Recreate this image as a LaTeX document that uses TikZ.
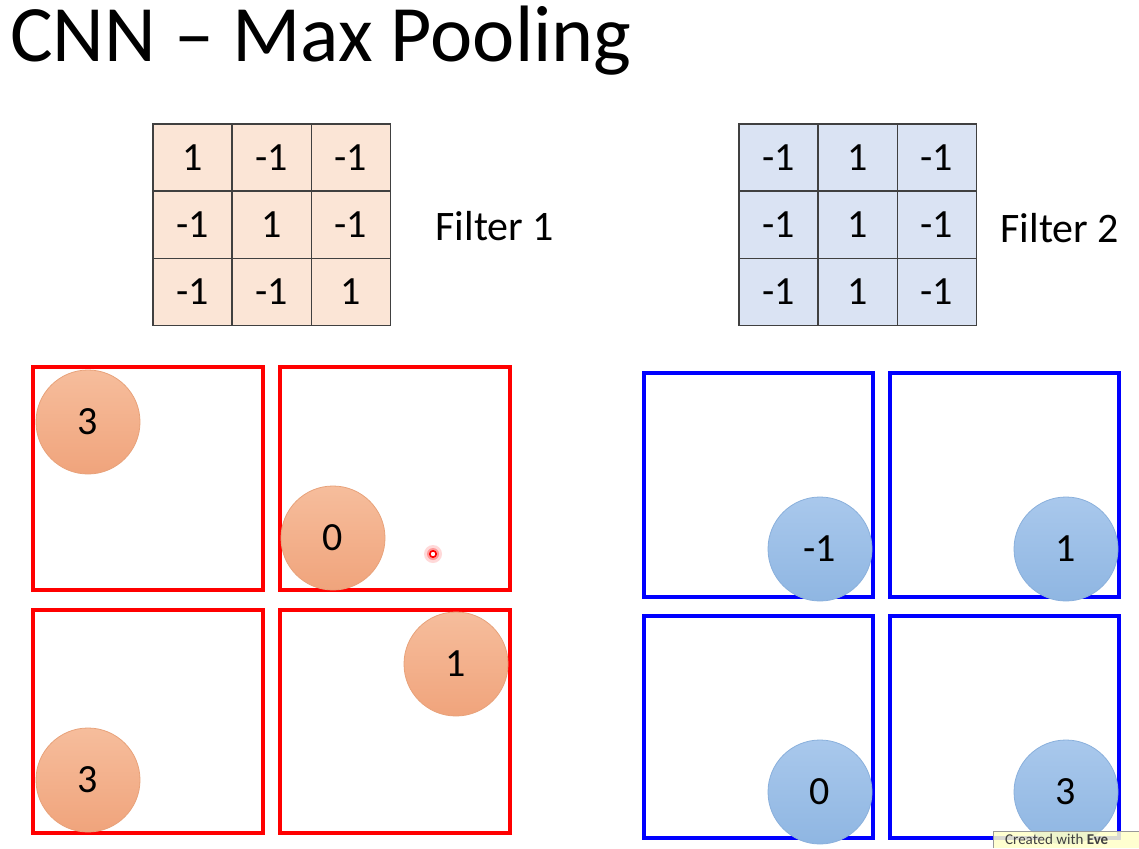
\documentclass[tikz,border=0pt]{standalone}
\usepackage{fontspec}
\setmainfont{Carlito}
\definecolor{peach}{HTML}{FBE5D6}
\definecolor{paleblue}{HTML}{DAE3F3}
\definecolor{gridline}{HTML}{404040}
\definecolor{otop}{HTML}{F6BD9C}
\definecolor{obot}{HTML}{F0A47C}
\definecolor{oedge}{HTML}{E8A27A}
\definecolor{btop}{HTML}{A9C8EC}
\definecolor{bbot}{HTML}{8FB6E2}
\definecolor{bedge}{HTML}{8AB0DC}
\definecolor{badge}{HTML}{FFFFC8}
\begin{document}
\begin{tikzpicture}[x=1pt,y=-1pt,
  cell/.style={draw=gridline,line width=1.5pt,minimum width=79.3pt,minimum height=67.3pt,inner sep=0pt,font=\fontsize{40}{40}\selectfont,anchor=north west},
  c1/.style={cell,fill=peach},
  c2/.style={cell,fill=paleblue},
  flabel/.style={anchor=west,font=\fontsize{42}{42}\selectfont},
  rbox/.style={draw=red,line width=4.5pt},
  bbox/.style={draw=blue,line width=4.5pt},
  obub/.style={circle,minimum size=104pt,inner sep=0pt,draw=oedge,line width=0.8pt,top color=otop,bottom color=obot,font=\fontsize{40}{40}\selectfont},
  bbub/.style={circle,minimum size=104pt,inner sep=0pt,draw=bedge,line width=0.8pt,top color=btop,bottom color=bbot,font=\fontsize{40}{40}\selectfont}
]
\useasboundingbox (0,0) rectangle (1139,848);
\fill[white] (0,0) rectangle (1139,848);
\node[anchor=base west,inner sep=0pt,font=\fontsize{80}{80}\selectfont] (title) at (10,62) {CNN – Max Pooling};

% Filter 1
\node[c1] (a11) at (152,123) {1};
\node[c1] (a12) at (231.3,123) {-1};
\node[c1] (a13) at (310.6,123) {-1};
\node[c1] (a21) at (152,190.3) {-1};
\node[c1] (a22) at (231.3,190.3) {1};
\node[c1] (a23) at (310.6,190.3) {-1};
\node[c1] (a31) at (152,257.6) {-1};
\node[c1] (a32) at (231.3,257.6) {-1};
\node[c1] (a33) at (310.6,257.6) {1};
\node[flabel] (f1) at (432,226) {Filter 1};

% Filter 2
\node[c2] (b11) at (738,123) {-1};
\node[c2] (b12) at (817.3,123) {1};
\node[c2] (b13) at (896.6,123) {-1};
\node[c2] (b21) at (738,190.3) {-1};
\node[c2] (b22) at (817.3,190.3) {1};
\node[c2] (b23) at (896.6,190.3) {-1};
\node[c2] (b31) at (738,257.6) {-1};
\node[c2] (b32) at (817.3,257.6) {1};
\node[c2] (b33) at (896.6,257.6) {-1};
\node[flabel] (f2) at (997,228) {Filter 2};

% red boxes
\draw[rbox] (33,367) rectangle (263,590);
\draw[rbox] (280,367) rectangle (510,590);
\draw[rbox] (33,610) rectangle (263,833);
\draw[rbox] (280,610) rectangle (510,833);
% blue boxes
\draw[bbox] (644,373) rectangle (873,597);
\draw[bbox] (890,373) rectangle (1119,597);
\draw[bbox] (644,616) rectangle (873,838);
\draw[bbox] (890,616) rectangle (1119,838);

% bubbles
\node[obub] (o1) at (88,422) {3};
\node[obub] (o2) at (333,538) {0};
\node[obub] (o3) at (456,664) {1};
\node[obub] (o4) at (88,780) {3};
\node[bbub] (p1) at (820,549) {-1};
\node[bbub] (p2) at (1066,549) {1};
\node[bbub] (p3) at (820,792) {0};
\node[bbub] (p4) at (1066,792) {3};

% laser pointer
\fill[red!15] (433,554) circle (9);
\fill[red!40] (433,554) circle (6);
\draw[red,line width=1.6pt,fill=white] (433,554) circle (3.2);

% watermark badge
\fill[badge,opacity=0.85] (993,831) rectangle (1139,848);
\draw[black!40,line width=0.8pt] (993,848) -- (993,831) -- (1139,831);
\node[anchor=base west,inner sep=0pt,font=\fontsize{15}{15}\selectfont,text=black!75] (wm) at (1005,844.5) {Created with \textbf{Eve}};
\end{tikzpicture}
\end{document}
